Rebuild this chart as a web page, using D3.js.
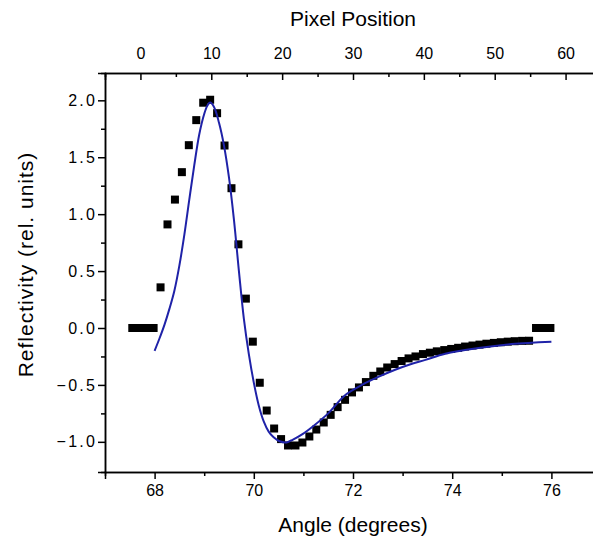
<!DOCTYPE html>
<html>
<head>
<meta charset="utf-8">
<script src="https://cdn.jsdelivr.net/npm/d3@7/dist/d3.min.js"></script>
<style>
  body { margin: 0; background: #fff; }
  #chart svg text { font-family: "Liberation Sans", Arial, sans-serif; fill: #000; }
</style>
</head>
<body>
<div id="chart"></div>
<script>
// measured points (angle in degrees, reflectivity)
const ANGLES = [
  67.55, 67.69, 67.84, 67.98, 68.12, 68.26, 68.41, 68.55, 68.69, 68.84,
  68.98, 69.12, 69.26, 69.41, 69.55, 69.69, 69.84, 69.98, 70.12, 70.26,
  70.41, 70.55, 70.69, 70.84, 70.98, 71.12, 71.26, 71.41, 71.55, 71.69,
  71.84, 71.98, 72.12, 72.26, 72.41, 72.55, 72.69, 72.84, 72.98, 73.12,
  73.26, 73.41, 73.55, 73.69, 73.84, 73.98, 74.12, 74.26, 74.41, 74.55,
  74.69, 74.84, 74.98, 75.12, 75.26, 75.41, 75.55, 75.69, 75.84, 75.98
];
const REFLECT = [
  0, 0, 0, 0, 0.357, 0.91, 1.128, 1.369, 1.606, 1.826,
  1.979, 2.005, 1.887, 1.603, 1.228, 0.735, 0.258, -0.12, -0.481, -0.725,
  -0.883, -0.976, -1.032, -1.032, -1.006, -0.953, -0.892, -0.83, -0.763, -0.695,
  -0.631, -0.566, -0.522, -0.475, -0.42, -0.382, -0.347, -0.317, -0.29, -0.267,
  -0.25, -0.229, -0.217, -0.205, -0.194, -0.184, -0.174, -0.163, -0.154, -0.146,
  -0.138, -0.131, -0.125, -0.12, -0.116, -0.113, -0.112, 0, 0, 0
];

// fitted curve
const FIT_ANGLES = [
  68.00, 68.10, 68.20, 68.30, 68.40, 68.50, 68.60, 68.70, 68.80, 68.90,
  69.00, 69.06, 69.12, 69.20, 69.30, 69.40, 69.50, 69.60, 69.70, 69.80,
  69.90, 70.00, 70.10, 70.20, 70.30, 70.40, 70.52, 70.66, 70.79, 70.99,
  71.19, 71.50, 71.84, 72.18, 72.51, 72.85, 73.19, 73.46, 73.86, 74.53,
  75.20, 76.00
];
const FIT_VALUES = [
  -0.20, -0.09, 0.03, 0.17, 0.33, 0.55, 0.82, 1.13, 1.43, 1.70,
  1.88, 1.95, 1.98, 1.94, 1.80, 1.60, 1.32, 0.95, 0.50, 0.08,
  -0.23, -0.48, -0.68, -0.82, -0.91, -0.96, -0.995, -1.005, -0.98, -0.93,
  -0.865, -0.75, -0.59, -0.50, -0.43, -0.367, -0.314, -0.28, -0.226, -0.176,
  -0.141, -0.12
];

// ticks
const ANGLE_TICKS = [68, 70, 72, 74, 76];
const ANGLE_MINOR = [69, 71, 73, 75, 77];
const PIXEL_TICKS = [0, 10, 20, 30, 40, 50, 60];
const PIXEL_MINOR = [5, 15, 25, 35, 45, 55];
const REFL_TICKS = [-1.0, -0.5, 0.0, 0.5, 1.0, 1.5, 2.0];
const REFL_MINOR = [-0.75, -0.25, 0.25, 0.75, 1.25, 1.75];

const W = 593, H = 538;
const plotLeft = 105, plotRight = 601, plotTop = 73, plotBottom = 472;

const svg = d3.select("#chart")
  .append("svg")
  .attr("width", W)
  .attr("height", H);

// skala
const x = d3.scaleLinear().domain([67, 77]).range([plotLeft, plotRight]);
const xTop = d3.scaleLinear().domain([-5, 65]).range([plotLeft, plotRight]);
const y = d3.scaleLinear().domain([-1.265, 2.24]).range([plotBottom, plotTop]);

function styleAxis(g) {
  g.select(".domain").attr("stroke", "#000").attr("stroke-width", 1.5);
  g.selectAll(".tick line").attr("stroke", "#000").attr("stroke-width", 1.5);
  g.selectAll(".tick text").attr("font-size", "16px").attr("fill", "#000");
}

// sumbu bawah
svg.append("g")
  .attr("transform", `translate(0,${plotBottom})`)
  .call(d3.axisBottom(x).tickValues(ANGLE_MINOR).tickSize(4).tickFormat(""))
  .call(styleAxis);
svg.append("g")
  .attr("transform", `translate(0,${plotBottom})`)
  .call(d3.axisBottom(x).tickValues(ANGLE_TICKS).tickSize(7).tickPadding(6).tickFormat(d3.format("d")))
  .call(styleAxis);

// sumbu atas (pixel), tick ke dalam
svg.append("g")
  .attr("transform", `translate(0,${plotTop})`)
  .call(d3.axisTop(xTop).tickValues(PIXEL_MINOR).tickSize(-4).tickFormat(""))
  .call(styleAxis);
svg.append("g")
  .attr("transform", `translate(0,${plotTop})`)
  .call(d3.axisTop(xTop).tickValues(PIXEL_TICKS).tickSize(-7).tickPadding(14).tickFormat(d3.format("d")))
  .call(styleAxis);

// sumbu kiri
svg.append("g")
  .attr("transform", `translate(${plotLeft},0)`)
  .call(d3.axisLeft(y).tickValues(REFL_MINOR).tickSize(4).tickFormat(""))
  .call(styleAxis);
svg.append("g")
  .attr("transform", `translate(${plotLeft},0)`)
  .call(d3.axisLeft(y).tickValues(REFL_TICKS).tickSize(7).tickPadding(1).tickFormat(d3.format(".1f")))
  .call(styleAxis)
  .selectAll(".tick text")
  .attr("letter-spacing", "2.2px");

// label sumbu
svg.append("text")
  .attr("x", (plotLeft + plotRight) / 2)
  .attr("y", 532)
  .attr("text-anchor", "middle")
  .attr("font-size", "21px")
  .text("Angle (degrees)");

svg.append("text")
  .attr("x", (plotLeft + plotRight) / 2)
  .attr("y", 26)
  .attr("text-anchor", "middle")
  .attr("font-size", "21px")
  .text("Pixel Position");

svg.append("text")
  .attr("transform", `translate(33,${(plotTop + plotBottom) / 2 - 8}) rotate(-90)`)
  .attr("text-anchor", "middle")
  .attr("font-size", "21px")
  .attr("letter-spacing", "1px")
  .text("Reflectivity (rel. units)");

// titik data
const pts = ANGLES.map((a, i) => ({ a, r: REFLECT[i] }));
svg.append("g")
  .selectAll("rect")
  .data(pts)
  .enter()
  .append("rect")
  .attr("x", d => x(d.a) - 4)
  .attr("y", d => y(d.r) - 4)
  .attr("width", 8)
  .attr("height", 8)
  .attr("fill", "#000");

// kurva fit
const fit = FIT_ANGLES.map((a, i) => ({ a, v: FIT_VALUES[i] }));
svg.append("path")
  .datum(fit)
  .attr("fill", "none")
  .attr("stroke", "#1f22a8")
  .attr("stroke-width", 2)
  .attr("d", d3.line()
    .x(d => x(d.a))
    .y(d => y(d.v))
    .curve(d3.curveCatmullRom.alpha(0.5)));
</script>
</body>
</html>
